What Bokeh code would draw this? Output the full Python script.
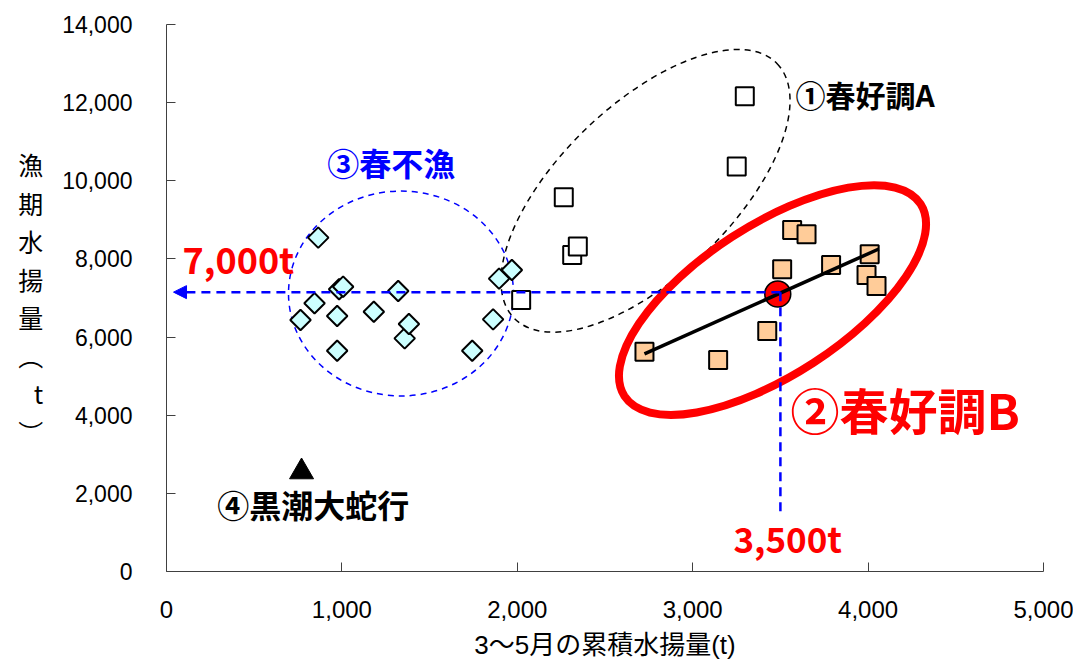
import math
from bokeh.plotting import figure
from bokeh.models import Range1d, Label, Arrow, NormalHead, FixedTicker, NumeralTickFormatter
from bokeh.embed import file_html
from bokeh.resources import INLINE

# ---- data ----
# ③ 春不漁 (diamonds)
fushin_x = [865, 764, 844, 973, 973, 984, 1007, 1182, 1321, 1358, 1382, 1862, 1743, 1896, 1969]
fushin_y = [8546, 6436, 6864, 6538, 5649, 7223, 7290, 6649, 7180, 5966, 6333, 6453, 5649, 7495, 7718]
# ① 春好調A (white squares)
kochoA_x = [3297, 3251, 2265, 2313, 2345, 2022]
kochoA_y = [12161, 10367, 9581, 8102, 8316, 6948]
# ② 春好調B (orange squares)
kochoB_x = [2725, 3145, 3425, 3510, 3567, 3649, 3789, 4009, 3991, 4048]
kochoB_y = [5623, 5410, 6154, 7736, 8743, 8633, 7846, 8120, 7590, 7307]
# ④ 黒潮大蛇行 (triangle)
kuroshio_x = [770]
kuroshio_y = [2550]
# highlighted point and trend line of group B
hl_x = [3485]
hl_y = [7100]
trend_x = [2725, 4061]
trend_y = [5572, 8254]
# guide values
guide_x = 3500
guide_y = 7150
guide_arrow_end_x = 40
guide_v_end_y = 1450

x_ticks = [0, 1000, 2000, 3000, 4000, 5000]
y_ticks = [0, 2000, 4000, 6000, 8000, 10000, 12000, 14000]

# group outlines: centre (data), size (screen px), angle (deg)
zone_a = dict(x=2731, y=9743, w=366, h=172, angle=44)
zone_b = dict(x=3455, y=6948, w=353, h=150, angle=33)
zone_c = dict(x=1337, y=7115, w=225, h=205, angle=0)

JP = "Noto Sans CJK JP"
SANS = "'Liberation Sans', 'Noto Sans CJK JP', sans-serif"

p = figure(width=1073, height=666, output_backend="svg", toolbar_location=None,
           x_range=Range1d(0, 5000), y_range=Range1d(0, 14000),
           min_border_left=166, min_border_right=30, min_border_top=24, min_border_bottom=95)
p.outline_line_color = None
p.xgrid.visible = False
p.ygrid.visible = False
p.background_fill_color = "white"

for ax in (p.xaxis[0], p.yaxis[0]):
    ax.axis_line_color = "#404040"
    ax.major_tick_line_color = "#404040"
    ax.major_tick_in = 9
    ax.major_tick_out = 0
    ax.minor_tick_line_color = None
    ax.major_label_text_color = "black"

p.xaxis.ticker = FixedTicker(ticks=x_ticks)
p.yaxis.ticker = FixedTicker(ticks=y_ticks)
p.xaxis.formatter = NumeralTickFormatter(format="0,0")
p.yaxis.formatter = NumeralTickFormatter(format="0,0")
p.yaxis.major_label_text_font = "Liberation Sans"
p.yaxis.major_label_text_font_size = "23px"
p.yaxis.major_label_standoff = 34
p.xaxis.major_label_text_font = "Liberation Sans"
p.xaxis.major_label_text_font_size = "24px"
p.xaxis.major_label_standoff = 29
p.xaxis.axis_label = "3〜5月の累積水揚量(t)"
p.xaxis.axis_label_text_font = SANS
p.xaxis.axis_label_text_font_style = "normal"
p.xaxis.axis_label_text_font_size = "26px"
p.xaxis.axis_label_standoff = 9
p.xaxis.axis_label_text_color = "black"

# y axis label, stacked vertically
p.yaxis.axis_label = "漁\n期\n水\n揚\n量\n︵\nt\n︶"
p.yaxis.axis_label_orientation = "horizontal"
p.yaxis.axis_label_text_font = JP
p.yaxis.axis_label_text_font_style = "normal"
p.yaxis.axis_label_text_font_size = "25px"
p.yaxis.axis_label_text_line_height = 1.06
p.yaxis.axis_label_text_color = "black"
p.yaxis.axis_label_standoff = 16

# group outlines
for z, col, lw, dash in ((zone_c, "#0000FF", 1.5, "6 5"),
                         (zone_a, "black", 1.5, "6 5"),
                         (zone_b, "#FF0000", 8, "solid")):
    p.ellipse(x=[z["x"]], y=[z["y"]], width=z["w"], height=z["h"],
              width_units="screen", height_units="screen",
              angle=math.radians(z["angle"]), fill_color=None,
              line_color=col, line_width=lw, line_dash=dash)

# points
p.scatter(fushin_x, fushin_y, marker="square", size=14.5, angle=math.pi / 4,
          fill_color="#CCFFFF", line_color="black", line_width=2)
p.scatter(kochoA_x, kochoA_y, marker="square", size=18,
          fill_color="white", line_color="black", line_width=2)
p.scatter(kochoB_x, kochoB_y, marker="square", size=18,
          fill_color="#FFCC99", line_color="black", line_width=2)
p.scatter(kuroshio_x, kuroshio_y, marker="triangle", size=24,
          fill_color="black", line_color="black")
p.scatter(hl_x, hl_y, marker="circle", size=26,
          fill_color="#FF0000", line_color="black", line_width=1.5)
p.line(trend_x, trend_y, line_color="black", line_width=3.5)

# guide lines
p.add_layout(Arrow(x_start=guide_x, y_start=guide_y, x_end=guide_arrow_end_x, y_end=guide_y,
                   line_color="#0000FF", line_width=2.5, line_dash="9 6",
                   end=NormalHead(size=13, fill_color="#0000FF", line_color="#0000FF")))
p.line([guide_x, guide_x], [guide_y, guide_v_end_y], line_color="#0000FF",
       line_width=2.5, line_dash="9 6")

# annotations
labels = [
    ("①春好調A", 3586, 12217, "black", "30px"),
    ("③春不漁", 916, 10474, "#0000FF", "32px"),
    ("7,000t", 91, 8013, "#FF0000", "36px"),
    ("②春好調B", 3557, 4179, "#FF0000", "49px"),
    ("3,500t", 3232, 859, "#FF0000", "35px"),
    ("④黒潮大蛇行", 289, 1731, "black", "32px"),
]
for t, lx, ly, col, fs in labels:
    p.add_layout(Label(x=lx, y=ly, text=t, text_align="left", text_baseline="middle",
                       text_font=JP, text_font_style="bold", text_font_size=fs,
                       text_color=col))

open("out.html", "w").write(file_html(p, INLINE))
